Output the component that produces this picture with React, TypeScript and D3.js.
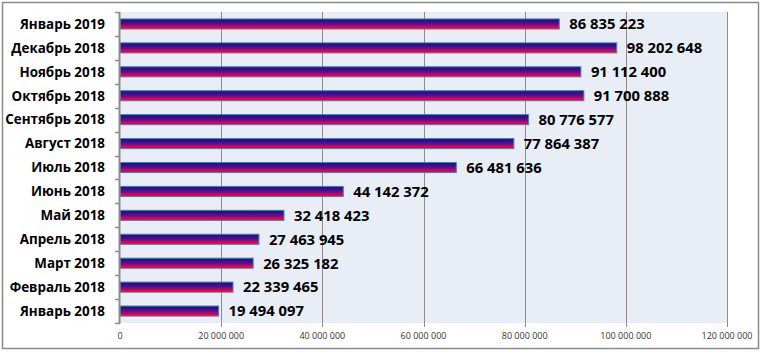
import React from "react";
import * as d3 from "d3";

const categories = [
  "Январь 2019",
  "Декабрь 2018",
  "Ноябрь 2018",
  "Октябрь 2018",
  "Сентябрь 2018",
  "Август 2018",
  "Июль 2018",
  "Июнь 2018",
  "Май 2018",
  "Апрель 2018",
  "Март 2018",
  "Февраль 2018",
  "Январь 2018",
];

const values = [
  86835223, 98202648, 91112400, 91700888, 80776577, 77864387, 66481636,
  44142372, 32418423, 27463945, 26325182, 22339465, 19494097,
];

const xTicks = [0, 20000000, 40000000, 60000000, 80000000, 100000000, 120000000];

const W = 765;
const H = 352;
const plot = { left: 120, right: 727, top: 12, bottom: 323 };
const FONT = "'Open Sans', 'Liberation Sans', sans-serif";

const fmt = (v: number) => d3.format(",")(v).replace(/,/g, " ");

export default function App() {
  const x = d3.scaleLinear().domain([0, 120000000]).range([plot.left, plot.right]);
  const y = d3
    .scaleBand<string>()
    .domain(categories)
    .range([plot.top, plot.bottom])
    .paddingInner(0.58)
    .paddingOuter(0.29);
  const band = (plot.bottom - plot.top) / categories.length;
  const boundaries = d3.range(categories.length + 1).map((i) => plot.top + i * band);

  return (
    <svg
      width={W}
      height={H}
      style={{ position: "absolute", left: 0, top: 0, background: "#fff" }}
    >
      <defs>
        <linearGradient id="barGrad" x1="0" y1="0" x2="0" y2="1">
          <stop offset="0" stopColor="#121275" />
          <stop offset="0.35" stopColor="#4a0a95" />
          <stop offset="0.6" stopColor="#8a0880" />
          <stop offset="0.8" stopColor="#e0083a" />
          <stop offset="1" stopColor="#ff0000" />
        </linearGradient>
      </defs>
      <rect x={2.5} y={2.5} width={756} height={346} fill="#fff" stroke="#8a8a8a" strokeWidth={1.5} />
      <rect
        x={plot.left}
        y={plot.top}
        width={plot.right - plot.left}
        height={plot.bottom - plot.top}
        fill="#e9edf6"
      />
      {xTicks.slice(1).map((t) => (
        <line
          key={"g" + t}
          x1={Math.round(x(t)) + 0.5}
          x2={Math.round(x(t)) + 0.5}
          y1={plot.top}
          y2={plot.bottom + 4}
          stroke="#8c8c8c"
          strokeWidth={1}
        />
      ))}
      {xTicks.map((t) => (
        <text
          key={"t" + t}
          x={x(t)}
          y={339}
          textAnchor="middle"
          fontFamily={FONT}
          fontSize={9}
          fill="#333"
        >
          {fmt(t)}
        </text>
      ))}
      {categories.map((c, i) => {
        const v = values[i];
        const y0 = y(c)!;
        const bw = y.bandwidth();
        return (
          <g key={c}>
            <rect
              x={x(0)}
              y={y0}
              width={x(v) - x(0)}
              height={bw}
              fill="url(#barGrad)"
              stroke="#4a7ebb"
              strokeWidth={1}
            />
            <text
              x={x(v) + 10}
              y={y0 + bw / 2}
              dy="0.36em"
              fontFamily={FONT}
              fontWeight={700}
              fontSize={14.8}
              fill="#000"
            >
              {fmt(v)}
            </text>
            <text
              x={105}
              y={y0 + bw / 2}
              dy="0.36em"
              textAnchor="end"
              fontFamily={FONT}
              fontWeight={700}
              fontSize={13.4}
              fill="#000"
            >
              {c}
            </text>
          </g>
        );
      })}
      <line x1={119.5} x2={119.5} y1={plot.top} y2={plot.bottom + 1} stroke="#8c8c8c" strokeWidth={2} />
      {boundaries.map((b, i) => (
        <line
          key={"b" + i}
          x1={115}
          x2={120}
          y1={Math.round(b) + 0.5}
          y2={Math.round(b) + 0.5}
          stroke="#8c8c8c"
          strokeWidth={1.5}
        />
      ))}
    </svg>
  );
}
